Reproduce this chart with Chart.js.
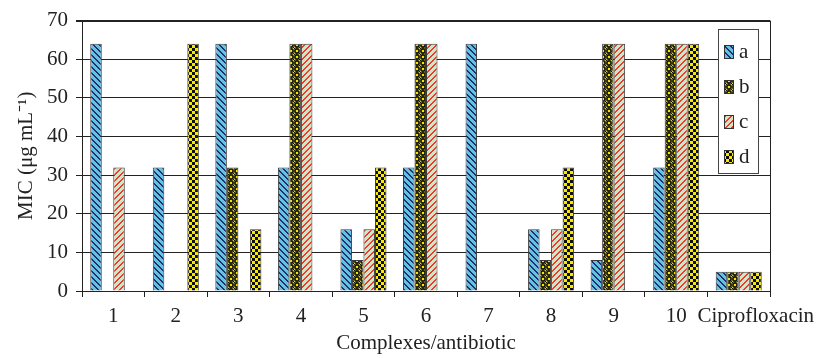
<!DOCTYPE html>
<html>
<head>
<meta charset="utf-8">
<script src="https://cdn.jsdelivr.net/npm/chart.js@4.4.1/dist/chart.umd.min.js"></script>
<style>
  html, body { margin: 0; padding: 0; background: #fff; }
  #wrap { width: 822px; height: 358px; }
</style>
</head>
<body>
<div id="wrap"><canvas id="mic-chart" width="822" height="358"></canvas></div>
<script>
// Categorias (complexos + antibiótico de referência)
const categories = ['1', '2', '3', '4', '5', '6', '7', '8', '9', '10', 'Ciprofloxacin'];
const seriesNames = ['a', 'b', 'c', 'd'];

// Valores de MIC (µg/mL); null = sem barra
const valuesA = [64, 32, 64, 32, 16, 32, 64, 16, 8, 32, 5];
const valuesB = [null, null, 32, 64, 8, 64, null, 8, 64, 64, 5];
const valuesC = [32, null, null, 64, 16, 64, null, 16, 64, 64, 5];
const valuesD = [null, 64, 16, null, 32, null, null, 32, null, 64, 5];

const yTicks = [0, 10, 20, 30, 40, 50, 60, 70];

const SERIF = "'Liberation Serif', 'Times New Roman', serif";
const FONT_SIZE = 21;

// --- Padrões de preenchimento (hachuras estilo Excel) ---
function makeTile(size, paint) {
    const c = document.createElement('canvas');
    c.width = size; c.height = size;
    const g = c.getContext('2d');
    paint(g, size);
    return c;
}

function stripeTile(bg, fg, period, width, dir) {
    return makeTile(period, (g, n) => {
        g.fillStyle = bg;
        g.fillRect(0, 0, n, n);
        g.fillStyle = fg;
        for (let y = 0; y < n; y++) {
            for (let x = 0; x < n; x++) {
                const k = dir === '\\' ? ((x - y) % n + n) % n : (x + y) % n;
                if (k < width) g.fillRect(x, y, 1, 1);
            }
        }
    });
}

const tileA = stripeTile('#62c3dc', '#262d78', 6, 2, '\\');
const tileC = stripeTile('#cfe5c8', '#ee3a2c', 6, 2, '/');
const tileB = makeTile(6, (g, n) => {
    g.fillStyle = '#f2e600';
    g.fillRect(0, 0, n, n);
    g.strokeStyle = '#111';
    g.lineWidth = 1.6;
    g.beginPath();
    g.arc(3, 3, 2.1, 0, Math.PI * 2);
    g.stroke();
    g.fillStyle = '#111';
    g.fillRect(0, 0, 1, 1);
    g.fillRect(5, 5, 1, 1);
});
const tileD = makeTile(6, (g, n) => {
    g.fillStyle = '#f7ea00';
    g.fillRect(0, 0, n, n);
    g.fillStyle = '#0d0d0d';
    g.fillRect(0, 0, 3, 3);
    g.fillRect(3, 3, 3, 3);
});

const canvas = document.getElementById('mic-chart');
const ctx = canvas.getContext('2d');
const patterns = [tileA, tileB, tileC, tileD].map(t => ctx.createPattern(t, 'repeat'));
const seriesValues = [valuesA, valuesB, valuesC, valuesD];

// Rótulos do eixo X, legenda interna e borda direita
const frameAndLegend = {
    id: 'frameAndLegend',
    afterDraw(chart) {
        const { ctx: c, chartArea: area } = chart;
        const xs = chart.scales.x;
        c.save();

        // rótulos das categorias ("Ciprofloxacin" fica deslocado para a direita no original)
        c.font = FONT_SIZE + 'px ' + SERIF;
        c.fillStyle = '#222';
        c.textBaseline = 'middle';
        c.textAlign = 'center';
        categories.forEach((lab, i) => {
            const shift = i === categories.length - 1 ? 17 : 0;
            c.fillText(lab, xs.getPixelForTick(i) + shift, area.bottom + 25);
        });

        c.strokeStyle = '#222';
        c.lineWidth = 1;
        c.beginPath();
        c.moveTo(Math.round(area.right) + 0.5, area.top);
        c.lineTo(Math.round(area.right) + 0.5, area.bottom + 6);
        c.stroke();

        const lx = Math.round(area.right) - 52, ly = Math.round(area.top) + 8;
        const lw = 40, lh = 144;
        c.fillStyle = '#fff';
        c.fillRect(lx, ly, lw, lh);
        c.strokeStyle = '#444';
        c.strokeRect(lx + 0.5, ly + 0.5, lw, lh);

        c.textAlign = 'left';
        chart.data.datasets.forEach((ds, i) => {
            const cy = ly + 23 + i * 35;
            c.fillStyle = ds.backgroundColor;
            c.fillRect(lx + 6, cy - 7, 10, 14);
            c.strokeStyle = '#333';
            c.strokeRect(lx + 6.5, cy - 6.5, 9, 13);
            c.fillStyle = '#222';
            c.fillText(ds.label, lx + 21, cy);
        });
        c.restore();
    }
};

new Chart(ctx, {
    type: 'bar',
    data: {
        labels: categories,
        datasets: seriesNames.map((name, i) => ({
            label: name,
            data: seriesValues[i],
            backgroundColor: patterns[i],
            borderColor: '#3a3a3a',
            borderWidth: 1,
            categoryPercentage: 0.736,
            barPercentage: 1.0
        }))
    },
    options: {
        responsive: false,
        animation: false,
        layout: { padding: { top: 19, right: 52, left: 0, bottom: 0 } },
        plugins: {
            legend: { display: false },
            tooltip: { enabled: false }
        },
        scales: {
            x: {
                grid: {
                    offset: true,
                    drawOnChartArea: false,
                    drawTicks: true,
                    tickLength: 6,
                    color: '#222'
                },
                border: { color: '#222', width: 1 },
                ticks: { display: false, autoSkip: false },
                title: {
                    display: true,
                    text: 'Complexes/antibiotic',
                    color: '#222',
                    font: { family: SERIF, size: FONT_SIZE },
                    padding: { top: 0, bottom: 2 }
                },
                afterFit: (scale) => { scale.height = 67; }
            },
            y: {
                min: 0,
                max: 70,
                afterBuildTicks: (scale) => { scale.ticks = yTicks.map(v => ({ value: v })); },
                grid: {
                    color: '#222',
                    lineWidth: (c) => (c.tick && c.tick.value === 70 ? 2 : 1),
                    tickLength: 6
                },
                border: { color: '#222', width: 1 },
                ticks: {
                    color: '#222',
                    font: { family: SERIF, size: FONT_SIZE },
                    padding: 8
                },
                title: {
                    display: true,
                    text: 'MIC (μg mL⁻¹)',
                    color: '#222',
                    font: { family: SERIF, size: FONT_SIZE },
                    padding: { top: 14, bottom: 14 }
                },
                afterFit: (scale) => { scale.width = 82; }
            }
        }
    },
    plugins: [frameAndLegend]
});
</script>
</body>
</html>
